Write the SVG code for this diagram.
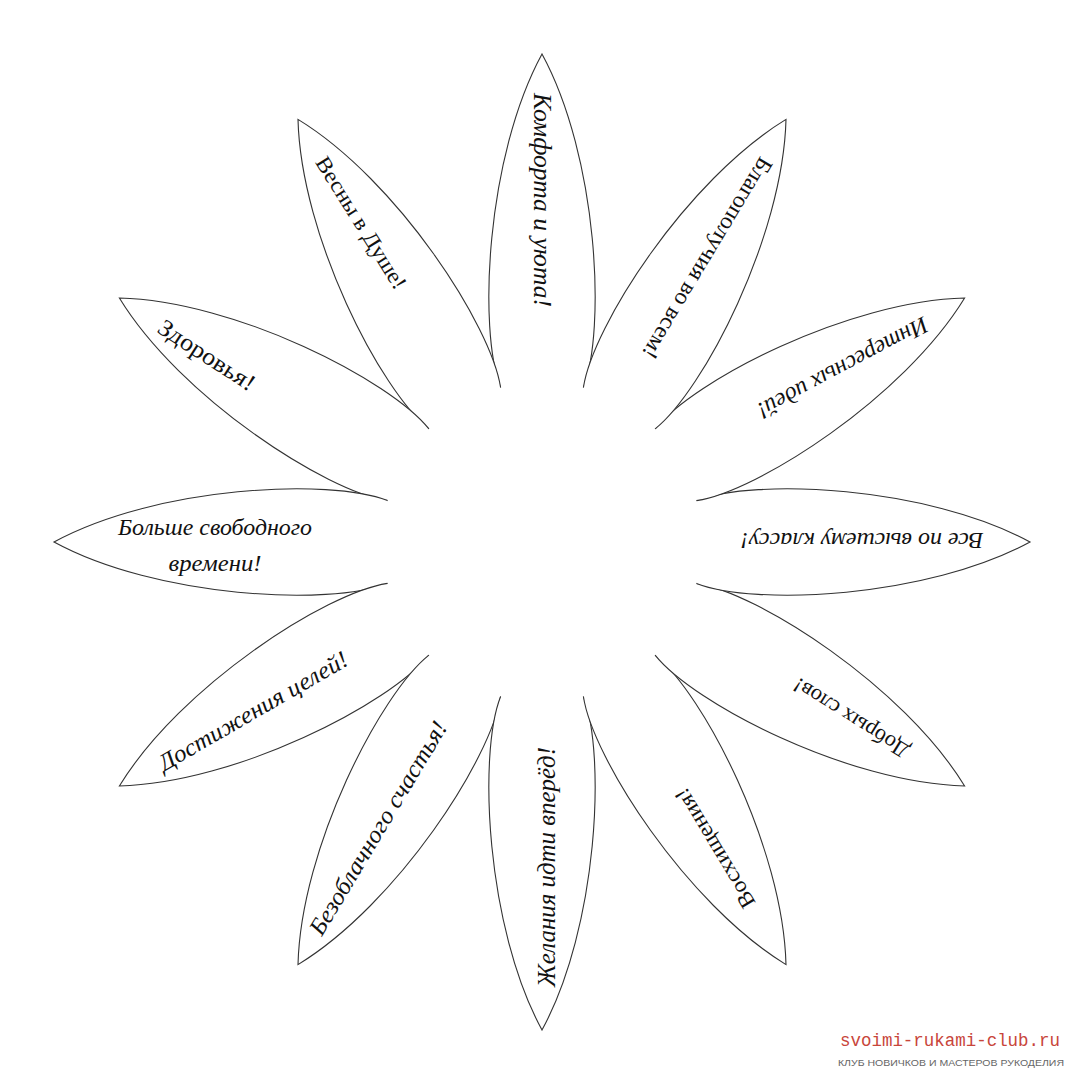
<svg xmlns="http://www.w3.org/2000/svg" xmlns:xlink="http://www.w3.org/1999/xlink" width="1080" height="1080" viewBox="0 0 1080 1080">
<style>
.petal{fill:#fff;stroke:#333;stroke-width:1.1}
.t{font-family:"Liberation Serif","DejaVu Serif",serif;fill:#111;text-anchor:middle}
.i{font-style:italic}
.wm{font-family:"Liberation Mono","DejaVu Sans Mono",monospace;fill:#c8453a}
.wm2{font-family:"Liberation Sans","DejaVu Sans",sans-serif;fill:#666}
</style>
<defs>
<path id="petal" d="M154.5,41.4 C212,64 385,56 488,0 C385,-56 212,-64 154.5,-41.4"/>
</defs>
<rect width="1080" height="1080" fill="#fff"/>
<g id="petals">
<g id="p-top"><use xlink:href="#petal" class="petal" transform="translate(542,542) rotate(-90)"/>
<text class="t i" font-size="26" transform="translate(542,200) rotate(90)" y="8" textLength="214" lengthAdjust="spacingAndGlyphs">Комфорта и уюта!</text></g>
<g id="p-vesny"><use xlink:href="#petal" class="petal" transform="translate(542,542) rotate(-120)"/>
<text class="t" font-size="22" transform="translate(361,223) rotate(58)" y="7" textLength="152" lengthAdjust="spacingAndGlyphs">Весны в Душе!</text></g>
<g id="p-zdorovya"><use xlink:href="#petal" class="petal" transform="translate(542,542) rotate(-150)"/>
<text class="t" font-size="24" transform="translate(207,355) rotate(33)" y="8" textLength="111" lengthAdjust="spacingAndGlyphs">Здоровья!</text></g>
<g id="p-bolshe"><use xlink:href="#petal" class="petal" transform="translate(542,542) rotate(180)"/>
<text class="t i" font-size="23" x="215" y="535" textLength="194" lengthAdjust="spacingAndGlyphs">Больше свободного</text>
<text class="t i" font-size="23" x="215" y="571" textLength="93" lengthAdjust="spacingAndGlyphs">времени!</text></g>
<g id="p-dostizheniya"><use xlink:href="#petal" class="petal" transform="translate(542,542) rotate(150)"/>
<text class="t i" font-size="24" transform="translate(253,711) rotate(-30)" y="8" textLength="215" lengthAdjust="spacingAndGlyphs">Достижения целей!</text></g>
<g id="p-bezoblachnogo"><use xlink:href="#petal" class="petal" transform="translate(542,542) rotate(120)"/>
<text class="t i" font-size="24" transform="translate(378,828) rotate(-59)" y="8" textLength="245" lengthAdjust="spacingAndGlyphs">Безоблачного счастья!</text></g>
<g id="p-zhelaniya"><use xlink:href="#petal" class="petal" transform="translate(542,542) rotate(90)"/>
<text class="t i" font-size="26" transform="translate(547,867) rotate(-90)" y="8" textLength="240" lengthAdjust="spacingAndGlyphs">Желания идти вперёд!</text></g>
<g id="p-voshisheniya"><use xlink:href="#petal" class="petal" transform="translate(542,542) rotate(60)"/>
<text class="t" font-size="22" transform="translate(715,848) rotate(-121)" y="7" textLength="136" lengthAdjust="spacingAndGlyphs">Восхищения!</text></g>
<g id="p-dobryh"><use xlink:href="#petal" class="petal" transform="translate(542,542) rotate(30)"/>
<text class="t" font-size="22" transform="translate(851,718) rotate(-148)" y="7" textLength="132" lengthAdjust="spacingAndGlyphs">Добрых слов!</text></g>
<g id="p-vse"><use xlink:href="#petal" class="petal" transform="translate(542,542) rotate(0)"/>
<text class="t i" font-size="24" transform="translate(862,541) rotate(180)" y="8" textLength="243" lengthAdjust="spacingAndGlyphs">Все по высшему классу!</text></g>
<g id="p-interesnyh"><use xlink:href="#petal" class="petal" transform="translate(542,542) rotate(-30)"/>
<text class="t i" font-size="24" transform="translate(843,368) rotate(152)" y="8" textLength="190" lengthAdjust="spacingAndGlyphs">Интересных идей!</text></g>
<g id="p-blagopoluchiya"><use xlink:href="#petal" class="petal" transform="translate(542,542) rotate(-60)"/>
<text class="t" font-size="23" transform="translate(707,258) rotate(121)" y="7" textLength="231" lengthAdjust="spacingAndGlyphs">Благополучия во всем!</text></g>
</g>
<g id="connectors"/>
<g id="watermark">
<text class="wm" font-size="18" x="840" y="1046" textLength="220" lengthAdjust="spacingAndGlyphs">svoimi-rukami-club.ru</text>
<text class="wm2" font-size="9" x="838" y="1066" textLength="226" lengthAdjust="spacingAndGlyphs">КЛУБ НОВИЧКОВ И МАСТЕРОВ РУКОДЕЛИЯ</text>
</g>
</svg>
